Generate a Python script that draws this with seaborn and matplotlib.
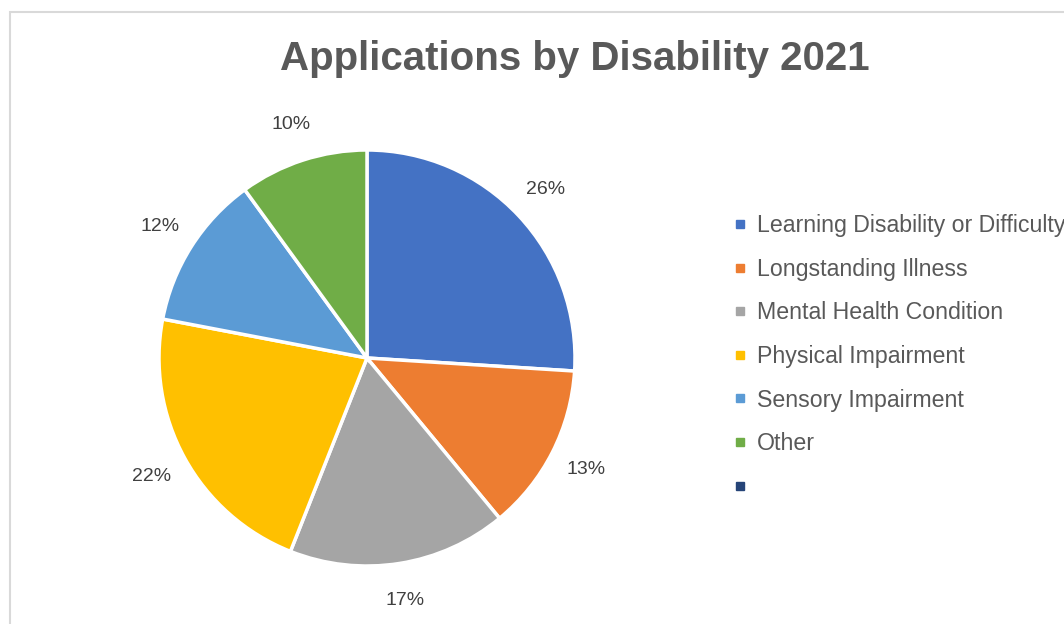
import matplotlib
matplotlib.use("Agg")
import matplotlib.pyplot as plt
from matplotlib.lines import Line2D
from matplotlib.patches import Rectangle
import seaborn as sns

sns.set_theme(style="white")
plt.rcParams["font.family"] = ["Liberation Sans", "DejaVu Sans"]

# Data
categories = [
    "Learning Disability or Difficulty",
    "Longstanding Illness",
    "Mental Health Condition",
    "Physical Impairment",
    "Sensory Impairment",
    "Other",
]
shares = [26, 13, 17, 22, 12, 10]
extra_label = ""  # empty series entry shown in the legend

colors = ["#4472C4", "#ED7D31", "#A5A5A5", "#FFC000", "#5B9BD5", "#70AD47"]
extra_color = "#264478"

W, H = 1064, 624
fig = plt.figure(figsize=(W / 100, H / 100), dpi=100)
fig.patch.set_facecolor("white")

# chart frame
fig.patches.append(Rectangle((10 / W, -0.1), 1.2, 1 - 12 / H + 0.1,
                             transform=fig.transFigure, fill=False,
                             edgecolor="#d9d9d9", linewidth=1.5))

# pie axes
cx, cy, r = 367, 358, 208
ax = fig.add_axes([(cx - r) / W, (H - cy - r) / H, 2 * r / W, 2 * r / H])
wedges, _, autotexts = ax.pie(
    shares,
    colors=colors,
    startangle=90,
    counterclock=False,
    radius=1.0,
    autopct=lambda p: f"{p:.0f}%",
    pctdistance=1.18,
    wedgeprops=dict(edgecolor="white", linewidth=2.5),
    textprops=dict(color="#404040", fontsize=14),
)
ax.set_xlim(-1, 1)
ax.set_ylim(-1, 1)
ax.set_aspect("equal")
ax.axis("off")

fig.text(575 / W, 1 - 59 / H, "Applications by Disability 2021",
         ha="center", va="center", fontsize=29, fontweight="bold",
         color="#595959")

handles = [Line2D([], [], marker="s", linestyle="none", markersize=5.5,
                  markerfacecolor=c, markeredgecolor=c) for c in colors]
handles.append(Line2D([], [], marker="s", linestyle="none", markersize=5.5,
                      markerfacecolor=extra_color, markeredgecolor=extra_color))
labels = categories + [extra_label]
leg = fig.legend(handles, labels, loc="upper left",
                 bbox_to_anchor=(733 / W, 1 - 214 / H),
                 frameon=False, fontsize=16.7, labelspacing=0.89,
                 handlelength=0.6, handletextpad=0.45, borderpad=0,
                 borderaxespad=0)
for t in leg.get_texts():
    t.set_color("#595959")

fig.savefig("out.png", dpi=100, facecolor="white")
